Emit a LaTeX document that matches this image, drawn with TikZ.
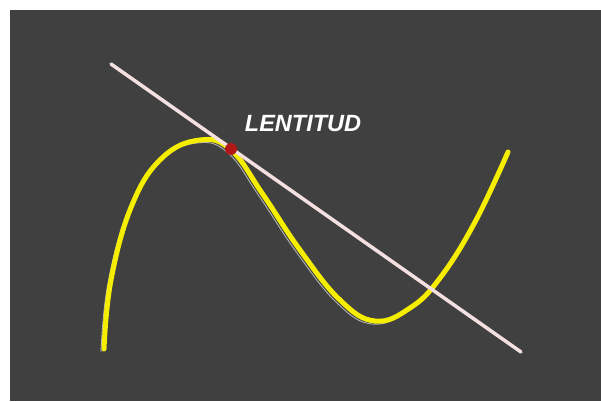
\documentclass[tikz,border=0pt]{standalone}
\usepackage{fontspec}
\setmainfont{Liberation Sans}
\definecolor{bgdark}{HTML}{404040}
\definecolor{curveyellow}{HTML}{F5EE00}
\definecolor{linepink}{HTML}{F4E0E0}
\definecolor{dotred}{HTML}{B01818}
\begin{document}
\begin{tikzpicture}[x=1pt,y=-1pt,
  curvestyle/.style={draw=curveyellow,line width=5pt,line cap=round,line join=round},
  shadowstyle/.style={draw=white,line width=0.9pt,opacity=0.6},
  tangentstyle/.style={draw=linepink,line width=3.5pt,line cap=round},
  labelstyle/.style={text=white,font=\bfseries\itshape\fontsize{23.5}{26}\selectfont,inner sep=0pt}]
\useasboundingbox (0,0) rectangle (601,401);
\fill[white] (0,0) rectangle (601,401);
\fill[bgdark] (10,10) rectangle (601,401);
% shadow curve
\draw[shadowstyle,shift={(-3,3)}] plot[smooth,tension=0.7] coordinates {(104,349) (111,280) (132,205) (162,158) (200,140) (231,150) (262,193) (300,250) (340,300) (375,321) (410,308) (440,278) (475,222) (508,152)};
% yellow curve
\draw[curvestyle] plot[smooth,tension=0.7] coordinates {(104,349) (111,280) (132,205) (162,158) (200,140) (231,150) (262,193) (300,250) (340,300) (375,321) (410,308) (440,278) (475,222) (508,152)};
% tangent line
\coordinate (t1) at (111,64);
\coordinate (t2) at (521,352);
\draw[tangentstyle] (t1) -- (t2);
% point of tangency
\node[circle,fill=dotred,minimum size=12pt,inner sep=0pt] (dot) at (231,149) {};
\node[labelstyle] (lbl) at (303,124) {LENTITUD};
\end{tikzpicture}
\end{document}
